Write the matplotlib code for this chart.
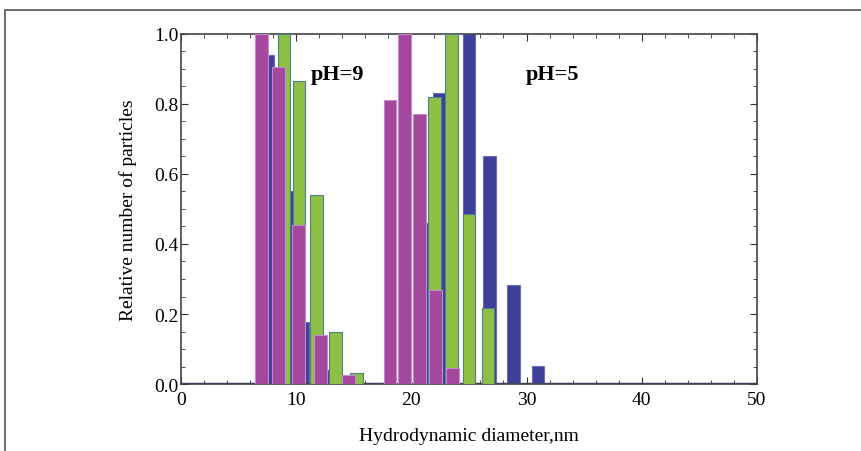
import matplotlib.pyplot as plt
from matplotlib.patches import Rectangle
from matplotlib.ticker import MultipleLocator

plt.rcParams['font.family'] = ['Liberation Serif', 'DejaVu Serif']

# bar centres (nm) and relative heights
blue_x = [7.5, 9.15, 10.6, 12.35, 21.0, 22.4, 25.0, 26.8, 28.85, 31.0]
blue_y = [0.94, 0.55, 0.178, 0.04, 0.46, 0.83, 1.0, 0.65, 0.283, 0.052]
green_x = [8.95, 10.25, 11.75, 13.4, 15.25, 22.0, 23.5, 25.0, 26.65]
green_y = [1.0, 0.864, 0.54, 0.15, 0.033, 0.82, 1.0, 0.486, 0.216]
magenta_x = [7.0, 8.45, 10.2, 12.1, 14.55, 18.15, 19.4, 20.7, 22.1, 23.6]
magenta_y = [1.0, 0.905, 0.455, 0.14, 0.026, 0.81, 1.0, 0.771, 0.27, 0.045]

bar_w = 1.1

fig = plt.figure(figsize=(8.62, 4.52), dpi=100)
ax = fig.add_axes([0.21, 0.148, 0.668, 0.775])

ax.axhline(0, color='#3d3f97', lw=2.5, zorder=1)
ax.bar(blue_x, blue_y, width=bar_w, color='#3e3f98', edgecolor='#6a6cc0', lw=0.8, zorder=2)
ax.bar(green_x, green_y, width=bar_w, color='#8dc044', edgecolor='#4f7f8a', lw=0.8, zorder=3)
ax.bar(magenta_x, magenta_y, width=bar_w, color='#a3489d', edgecolor='#c08ad0', lw=0.8, zorder=4)

ax.set_xlim(0, 50)
ax.set_ylim(0, 1.0)
ax.xaxis.set_major_locator(MultipleLocator(10))
ax.xaxis.set_minor_locator(MultipleLocator(2))
ax.yaxis.set_major_locator(MultipleLocator(0.2))
ax.yaxis.set_minor_locator(MultipleLocator(0.05))
ax.yaxis.set_major_formatter(lambda v, _: f'{v:.1f}')
ax.tick_params(which='both', direction='in', top=True, right=True, labelsize=14, color='#333333')
ax.tick_params(which='major', length=5)
ax.tick_params(which='minor', length=3)
ax.tick_params(axis='x', pad=5)
ax.tick_params(axis='y', pad=2)
for s in ax.spines.values():
    s.set_color('#444444')
    s.set_linewidth(1.2)

ax.set_xlabel('Hydrodynamic diameter,nm', fontsize=14, labelpad=14)
ax.set_ylabel('Relative number of particles', fontsize=14, labelpad=12)

ax.text(13.6, 0.885, 'pH=9', fontsize=16, fontweight='bold', ha='center', va='center')
ax.text(32.3, 0.885, 'pH=5', fontsize=16, fontweight='bold', ha='center', va='center')

# outer frame of the original figure
fig.patches.append(Rectangle((0.006, -0.1), 1.1, 1.076, transform=fig.transFigure,
                             fill=False, edgecolor='#555555', lw=1.2))

fig.savefig('out.png', dpi=100)
